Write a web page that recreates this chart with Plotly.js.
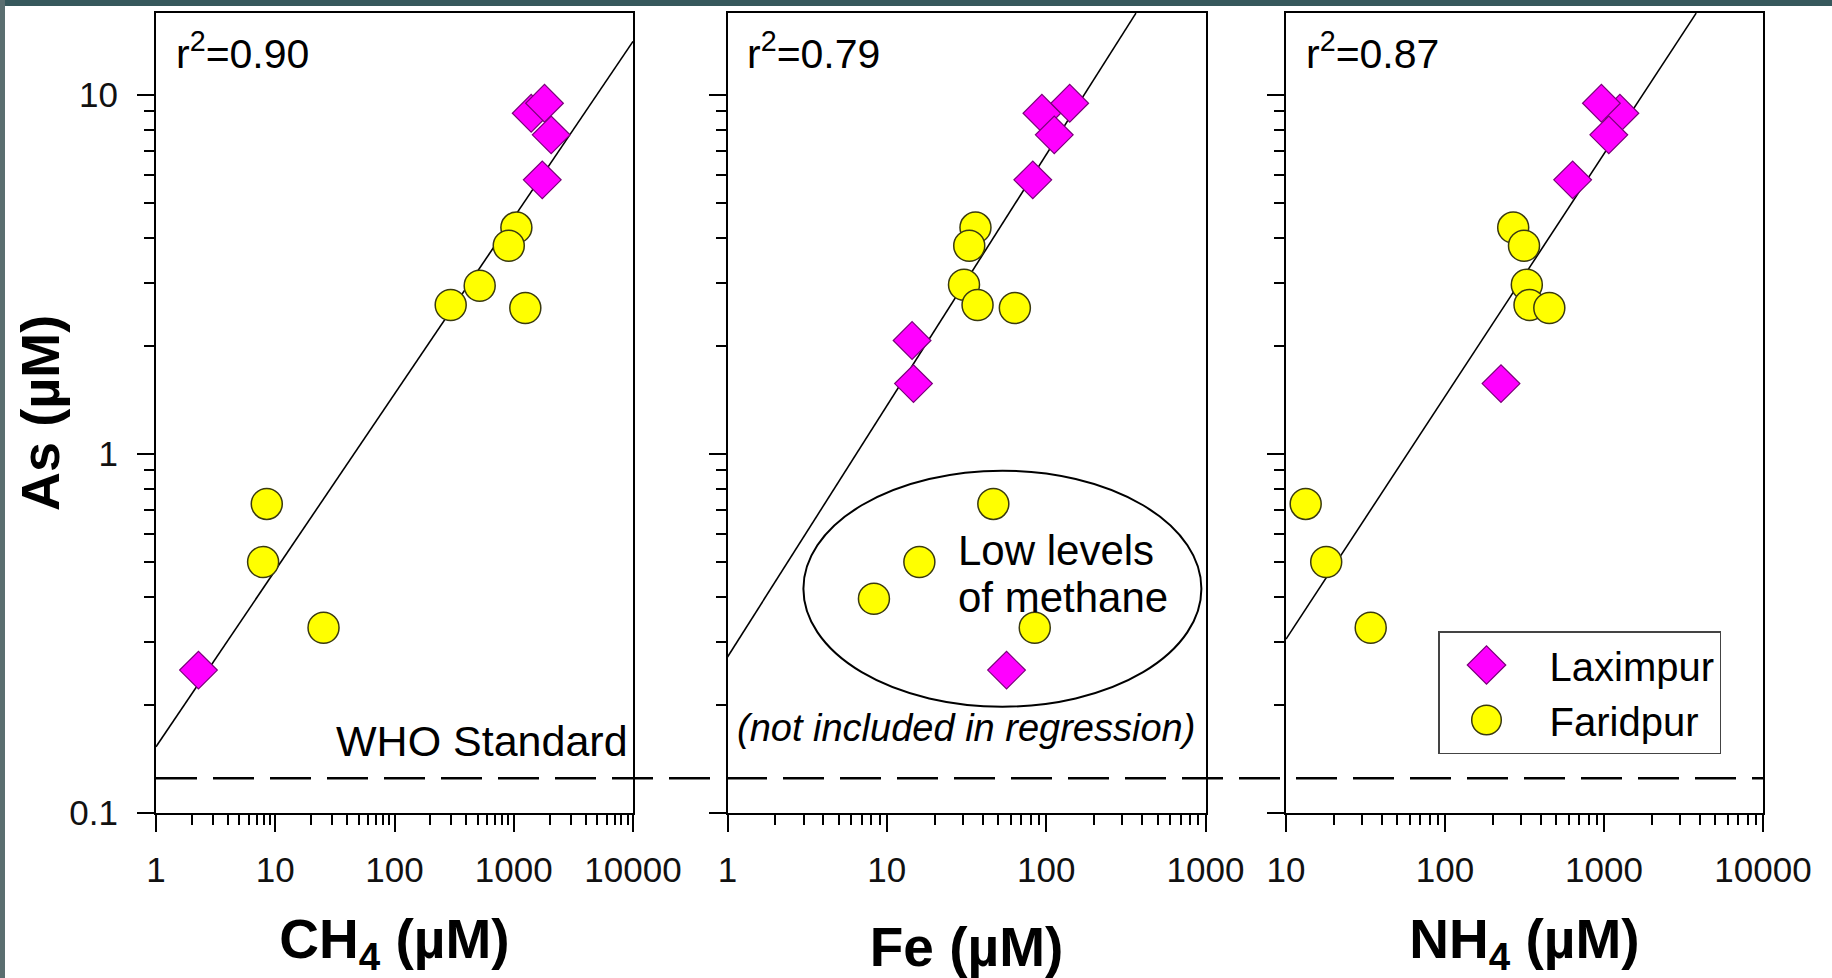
<!DOCTYPE html>
<html>
<head>
<meta charset="utf-8">
<script src="https://cdn.plot.ly/plotly-3.0.1.min.js"></script>
<style>
html,body{margin:0;padding:0;background:#fff;}
#chart{width:1832px;height:978px;}
</style>
</head>
<body>
<div id="chart"></div>
<script>
// ---------------- data ----------------
// Panel 1: As vs CH4
const laxCH4    = [1400, 1811, 2060, 1734, 2.27];
const laxAsCH4  = [8.89, 9.48, 7.74, 5.80, 0.250];
const farCH4    = [1052, 908, 518, 296, 1250, 8.49, 7.91, 25.4];
const farAsCH4  = [4.27, 3.80, 2.94, 2.60, 2.55, 0.726, 0.50, 0.328];
// Panel 2: As vs Fe
const laxFe     = [94, 140.5, 112.4, 82.4, 14.4, 14.7, 56.4];
const laxAsFe   = [8.89, 9.48, 7.74, 5.80, 2.07, 1.57, 0.250];
const farFe     = [36.0, 32.9, 30.5, 37.1, 63.6, 46.6, 16.0, 8.3, 84.8];
const farAsFe   = [4.27, 3.80, 2.96, 2.60, 2.55, 0.726, 0.50, 0.395, 0.328];
// Panel 3: As vs NH4
const laxNH4    = [1259, 963, 1072, 635, 225];
const laxAsNH4  = [8.89, 9.48, 7.74, 5.80, 1.57];
const farNH4    = [268.5, 314, 327, 340, 453, 13.3, 17.9, 34.1];
const farAsNH4  = [4.27, 3.80, 2.96, 2.60, 2.55, 0.726, 0.50, 0.328];
// Regression lines (end points)
const fitCH4X = [1, 10000],  fitCH4Y = [0.153, 14.1];
const fitFeX  = [1, 366],    fitFeY  = [0.272, 16.9];
const fitNH4X = [10, 3800],  fitNH4Y = [0.305, 16.9];
const rSquared = ['0.90', '0.79', '0.87'];
const whoStandard = 0.125;
const xTicks = [[1, 10, 100, 1000, 10000], [1, 10, 100, 1000], [10, 100, 1000, 10000]];
const yTicks = [0.1, 1, 10];
const seriesNames = ['Laximpur', 'Faridpur'];

// ---------------- styling ----------------
const FONT = 'Liberation Sans, Arial, Helvetica, sans-serif';
const W = 1832, H = 978;
const px = v => v / W;           // horizontal pixel -> paper
const py = v => 1 - v / H;       // vertical pixel -> paper
const xDomains = [[px(156), px(633)], [px(727.5), px(1205.5)], [px(1286), px(1763)]];
const yDomain = [py(813), py(12.7)];
const xRanges = [[0, 4], [0, 3], [1, 4]];
const yRange = [-1, 1.229];

function minorVals(lo, hi) {
  const out = [];
  for (let e = lo; e < hi; e++) for (let m = 2; m <= 9; m++) out.push(m * Math.pow(10, e));
  return out;
}

function xAxis(i, title) {
  const yname = i === 0 ? 'y' : 'y' + (i + 1);
  return {
    type: 'log', domain: xDomains[i], range: xRanges[i], anchor: yname,
    tickmode: 'array', tickvals: xTicks[i], ticktext: xTicks[i].map(String),
    ticks: 'outside', ticklen: 17, tickwidth: 2, tickcolor: '#000',
    ticklabelstandoff: 8,
    tickfont: {family: FONT, size: 35, color: '#111'},
    minor: {tickmode: 'array', tickvals: minorVals(xRanges[i][0], xRanges[i][1]),
            ticks: 'outside', ticklen: 10, tickwidth: 2, tickcolor: '#000', showgrid: false},
    showline: true, linecolor: '#000', linewidth: 2, mirror: true,
    showgrid: false, zeroline: false,
    title: {text: title, font: {family: FONT, size: 55, color: '#000', weight: 'bold'}, standoff: 43}
  };
}
function yAxis(i) {
  const xname = i === 0 ? 'x' : 'x' + (i + 1);
  const ax = {
    type: 'log', domain: yDomain, range: yRange, anchor: xname,
    tickmode: 'array', tickvals: yTicks, ticktext: yTicks.map(String),
    ticks: 'outside', ticklen: 17, tickwidth: 2, tickcolor: '#000',
    ticklabelstandoff: 12,
    showticklabels: i === 0,
    tickfont: {family: FONT, size: 35, color: '#111'},
    minor: {tickmode: 'array', tickvals: minorVals(-1, 1),
            ticks: 'outside', ticklen: 10, tickwidth: 2, tickcolor: '#000', showgrid: false},
    showline: true, linecolor: '#000', linewidth: 2, mirror: true,
    showgrid: false, zeroline: false
  };
  if (i === 0) ax.title = {text: 'As (µM)', font: {family: FONT, size: 54, color: '#000', weight: 'bold'}, standoff: 0};
  if (i > 0) ax.matches = 'y';
  return ax;
}

const diamond = {symbol: 'diamond', size: 29, color: '#ff00ff', line: {color: '#7a007a', width: 1.2}};
const circle  = {symbol: 'circle', size: 31, color: '#ffff00', line: {color: '#3a3a10', width: 1.5}};

function fitTrace(x, y, i) {
  const s = i === 0 ? '' : String(i + 1);
  return {x, y, xaxis: 'x' + s, yaxis: 'y' + s, mode: 'lines', type: 'scatter',
          line: {color: '#000', width: 1.6}, showlegend: false, hoverinfo: 'skip'};
}
function ptTrace(x, y, i, marker, name) {
  const s = i === 0 ? '' : String(i + 1);
  return {x, y, xaxis: 'x' + s, yaxis: 'y' + s, mode: 'markers', type: 'scatter',
          marker, name, legendgroup: name, showlegend: i === 0, cliponaxis: false};
}

const traces = [
  fitTrace(fitCH4X, fitCH4Y, 0), fitTrace(fitFeX, fitFeY, 1), fitTrace(fitNH4X, fitNH4Y, 2),
  ptTrace(farCH4, farAsCH4, 0, circle, seriesNames[1]),
  ptTrace(farFe, farAsFe, 1, circle, seriesNames[1]),
  ptTrace(farNH4, farAsNH4, 2, circle, seriesNames[1]),
  ptTrace(laxCH4, laxAsCH4, 0, diamond, seriesNames[0]),
  ptTrace(laxFe, laxAsFe, 1, diamond, seriesNames[0]),
  ptTrace(laxNH4, laxAsNH4, 2, diamond, seriesNames[0])
];

const annFont = {family: FONT, size: 41, color: '#000'};
const domY = v => 1 - (v - 12.7) / 800.3;   // vertical pixel -> y domain fraction
const annotations = [];
rSquared.forEach((r, i) => {
  const s = i === 0 ? '' : String(i + 1);
  annotations.push({xref: 'x' + s + ' domain', yref: 'y' + s + ' domain', x: 0.037, y: 0.952,
    xanchor: 'left', yanchor: 'middle', showarrow: false,
    text: 'r<sup>2</sup>=' + r, font: annFont});
});
annotations.push({xref: 'x domain', yref: 'y domain', x: 0.993, y: domY(741), xanchor: 'right', yanchor: 'middle',
  showarrow: false, text: 'WHO Standard', font: {family: FONT, size: 43, color: '#000'}});
annotations.push({xref: 'x2 domain', yref: 'y2 domain', x: 0.478, y: domY(551), xanchor: 'left', yanchor: 'middle',
  showarrow: false, text: 'Low levels', font: {family: FONT, size: 42, color: '#000'}});
annotations.push({xref: 'x2 domain', yref: 'y2 domain', x: 0.478, y: domY(597), xanchor: 'left', yanchor: 'middle',
  showarrow: false, text: 'of methane', font: {family: FONT, size: 42, color: '#000'}});
annotations.push({xref: 'x2 domain', yref: 'y2 domain', x: 0.499, y: domY(728), xanchor: 'center', yanchor: 'middle',
  showarrow: false, text: '<i>(not included in regression)</i>', font: {family: FONT, size: 38, color: '#000'}});

const shapes = [
  // WHO standard dashed line across all panels
  {type: 'line', xref: 'paper', yref: 'y', x0: px(156), x1: px(1764), y0: whoStandard, y1: whoStandard,
   line: {color: '#000', width: 2.5, dash: '41px,16px'}},
  // ellipse around low-methane points
  {type: 'circle', xref: 'paper', yref: 'paper', x0: px(803.4), x1: px(1201.4), y0: py(706.7), y1: py(470.7),
   line: {color: '#000', width: 2}, layer: 'below'},
  // slide background strips
  {type: 'rect', xref: 'paper', yref: 'paper', x0: 0, x1: 1, y0: py(6), y1: 1, fillcolor: '#36585c', line: {width: 0}, layer: 'below'},
  {type: 'rect', xref: 'paper', yref: 'paper', x0: 0, x1: px(5), y0: 0, y1: 1, fillcolor: '#5a6e70', line: {width: 0}, layer: 'below'}
];

const layout = {
  width: W, height: H,
  margin: {l: 0, r: 0, t: 0, b: 0},
  paper_bgcolor: '#fff', plot_bgcolor: 'rgba(0,0,0,0)',
  font: {family: FONT, color: '#000'},
  xaxis: xAxis(0, 'CH<sub>4</sub> (µM)'),
  xaxis2: xAxis(1, 'Fe (µM)'),
  xaxis3: xAxis(2, 'NH<sub>4</sub> (µM)'),
  yaxis: yAxis(0), yaxis2: yAxis(1), yaxis3: yAxis(2),
  showlegend: true,
  legend: {x: px(1438), y: py(631), xanchor: 'left', yanchor: 'top',
           bgcolor: '#fff', bordercolor: '#444', borderwidth: 1.5,
           font: {family: FONT, size: 40, color: '#000'}, itemwidth: 100,
           traceorder: 'reversed', itemsizing: 'trace'},
  annotations, shapes
};

Plotly.newPlot('chart', traces, layout, {displayModeBar: false, staticPlot: true}).then(gd => {
  // legend symbols are capped at 16px by Plotly; enlarge them to match the plotted markers
  gd.querySelectorAll('.legend .legendpoints path.scatterpts').forEach(p => {
    const t = p.getAttribute('transform') || '';
    p.setAttribute('transform', t + ' translate(-8,0) scale(1.85)');
    p.style.vectorEffect = 'non-scaling-stroke';
  });
  // nudge the y-axis title a little closer to its tick labels, as in the reference
  const yt = gd.querySelector('.g-ytitle');
  if (yt) yt.setAttribute('transform', 'translate(8,0)');
});
</script>
</body>
</html>
